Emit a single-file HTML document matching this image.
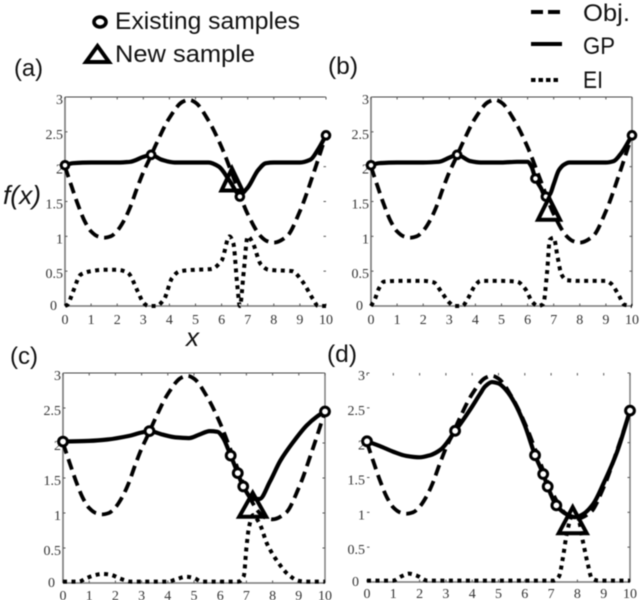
<!DOCTYPE html>
<html>
<head>
<meta charset="utf-8">
<style>
html,body{margin:0;padding:0;background:#fff;}
#chart{display:block;filter:blur(0.45px);}
.lbl{font-family:"Liberation Sans",sans-serif;fill:#111;}
.tick{font-family:"Liberation Serif",serif;font-size:14px;fill:#333;}
</style>
</head>
<body>
<svg id="chart" width="640" height="600" viewBox="0 0 640 600">
  <g>
    <ellipse cx="100" cy="22" rx="6" ry="5" fill="#fff" stroke="#000" stroke-width="3.6"/>
    <text class="lbl" x="115" y="29" font-size="24" textLength="185" lengthAdjust="spacingAndGlyphs">Existing samples</text>
    <polygon points="97.5,46 86,62 109,62" fill="none" stroke="#000" stroke-width="4"/>
    <text class="lbl" x="115" y="62" font-size="24" textLength="140" lengthAdjust="spacingAndGlyphs">New sample</text>
  </g>
  <g>
    <line x1="531" y1="12" x2="560" y2="12" stroke="#000" stroke-width="4" stroke-dasharray="12 5"/>
    <text class="lbl" x="583" y="21" font-size="24" textLength="47" lengthAdjust="spacingAndGlyphs">Obj.</text>
    <line x1="531" y1="44" x2="562" y2="44" stroke="#000" stroke-width="4"/>
    <text class="lbl" x="583" y="54" font-size="24" textLength="32" lengthAdjust="spacingAndGlyphs">GP</text>
    <line x1="531" y1="80" x2="560" y2="80" stroke="#000" stroke-width="4" stroke-dasharray="4.5 3"/>
    <text class="lbl" x="583" y="88" font-size="24" textLength="20" lengthAdjust="spacingAndGlyphs">EI</text>
  </g>
  <text class="lbl" x="14" y="76" font-size="24" textLength="29" lengthAdjust="spacingAndGlyphs">(a)</text>
  <text class="lbl" x="328" y="74" font-size="24" textLength="30" lengthAdjust="spacingAndGlyphs">(b)</text>
  <text class="lbl" x="10" y="364" font-size="24" textLength="28" lengthAdjust="spacingAndGlyphs">(c)</text>
  <text class="lbl" x="327" y="362" font-size="24" textLength="30" lengthAdjust="spacingAndGlyphs">(d)</text>
  <text class="lbl" x="3" y="204" font-size="26" font-style="italic" textLength="38" lengthAdjust="spacingAndGlyphs">f(x)</text>
  <text class="lbl" x="186" y="346" font-size="26" font-style="italic">x</text>
  <g id="panels"></g>
</svg>
<script>
const xTickLabels = ["0","1","2","3","4","5","6","7","8","9","10"];
const yTickLabels = ["0","0.5","1","1.5","2","2.5","3"];
const yTickValues = [0,0.5,1,1.5,2,2.5,3];
const xTickValues = [0,1,2,3,4,5,6,7,8,9,10];

const objX = [0,0.25,0.5,0.75,1,1.25,1.5,1.75,2,2.25,2.5,2.75,3,3.25,3.5,4,4.5,4.75,5,5.5,6,6.5,7,7.5,7.75,8,8.5,9,9.5,10];
const objY = [2.0,1.72,1.45,1.22,1.07,1.0,0.98,1.0,1.08,1.22,1.42,1.68,1.92,2.12,2.33,2.7,2.93,2.96,2.92,2.66,2.28,1.8,1.32,1.0,0.93,0.91,1.0,1.36,1.88,2.45];

const gpAX = [0,0.3,1,2,2.5,3,3.3,3.7,4.2,5.5,5.9,6.3,6.7,7,7.4,7.7,8,9,9.4,9.7,10];
const gpAY = [2.02,2.05,2.06,2.06,2.07,2.14,2.17,2.1,2.06,2.06,2.0,1.8,1.6,1.7,1.95,2.05,2.06,2.06,2.1,2.25,2.45];
const eiAX = [0,0.1,0.3,0.6,1,1.5,2,2.4,2.8,3,3.2,3.5,3.8,4.1,4.4,5,5.6,6,6.3,6.45,6.6,6.7,6.85,7,7.2,7.5,7.8,8.7,9.1,9.5,9.7,10];
const eiAY = [0,0.02,0.2,0.45,0.5,0.52,0.52,0.48,0.2,0.05,0,0,0.1,0.4,0.5,0.52,0.53,0.65,1.0,0.9,0.3,0,0.5,1.0,0.9,0.6,0.52,0.5,0.35,0.1,0,0];
const samplesAX = [0,3.3,6.7,10];
const samplesAY = [2.02,2.17,1.57,2.45];
const newAX = [6.4];
const newAY = [1.81];

const gpBX = [0,0.3,1,2,2.6,3,3.3,3.8,4.2,5,5.6,6,6.15,6.3,6.5,6.7,6.85,7,7.2,7.4,7.6,8,9,9.3,9.6,10];
const gpBY = [2.02,2.05,2.06,2.06,2.07,2.13,2.17,2.08,2.06,2.06,2.07,2.07,2.0,1.83,1.7,1.57,1.6,1.75,1.95,2.03,2.06,2.06,2.06,2.08,2.2,2.45];
const eiBX = [0,0.15,0.3,0.5,1,2,2.4,2.7,3,3.2,3.5,3.7,4,4.2,5,5.6,5.9,6.2,6.4,6.6,6.75,6.85,7,7.15,7.3,7.5,8,9,9.2,9.5,9.7,10];
const eiBY = [0,0.1,0.25,0.35,0.36,0.36,0.34,0.2,0.05,0,0,0.1,0.3,0.36,0.36,0.35,0.25,0.05,0,0.03,0.5,0.95,0.98,0.7,0.45,0.37,0.36,0.36,0.32,0.15,0.02,0];
const samplesBX = [0,3.3,6.3,6.7,10];
const samplesBY = [2.02,2.17,1.83,1.57,2.45];
const newBX = [6.82];
const newBY = [1.39];

const gpCX = [0,1,1.7,2.5,3,3.3,3.8,4.3,4.8,5.2,5.6,5.9,6.1,6.4,6.67,6.88,7.25,7.5,7.9,8.3,8.8,9.3,9.7,10];
const gpCY = [2.02,2.03,2.05,2.1,2.15,2.17,2.12,2.08,2.07,2.12,2.17,2.16,2.08,1.82,1.57,1.38,1.2,1.2,1.45,1.75,2.02,2.25,2.38,2.45];
const eiCX = [0,0.6,0.9,1.2,1.5,1.8,2.2,2.6,4,4.3,4.7,5,5.3,6.7,6.9,7,7.1,7.25,7.5,7.8,8.2,8.6,9,9.3,10];
const eiCY = [0.02,0.02,0.07,0.11,0.13,0.12,0.06,0.02,0.02,0.05,0.09,0.07,0.02,0.02,0.1,0.5,0.8,0.97,0.85,0.55,0.3,0.12,0.03,0.02,0.02];
const samplesCX = [0,3.3,6.4,6.67,6.88,10];
const samplesCY = [2.02,2.17,1.82,1.57,1.38,2.45];
const newCX = [7.24];
const newCY = [1.11];

const gpDX = [0,0.5,1,1.5,2,2.4,2.8,3.1,3.35,3.55,4,4.3,4.5,4.75,5,5.3,5.6,6,6.39,6.7,6.87,7.2,7.6,7.9,8.2,8.6,9,9.5,10];
const gpDY = [2.02,1.95,1.87,1.81,1.79,1.82,1.9,2.03,2.17,2.27,2.52,2.7,2.81,2.87,2.85,2.75,2.58,2.25,1.82,1.55,1.37,1.1,0.97,0.93,0.97,1.12,1.42,1.86,2.46];
const eiDX = [0,1,1.3,1.6,1.9,2.3,7.1,7.3,7.45,7.6,7.8,8,8.2,8.4,8.55,8.8,10];
const eiDY = [0.02,0.02,0.08,0.12,0.09,0.02,0.02,0.08,0.35,0.7,0.95,0.95,0.6,0.25,0.05,0.02,0.02];
const samplesDX = [0,3.35,6.39,6.7,6.87,7.2,10];
const samplesDY = [2.02,2.17,1.82,1.55,1.37,1.1,2.46];
const newDX = [7.82];
const newDY = [0.88];

const NS = "http://www.w3.org/2000/svg";
const root = document.getElementById("panels");

function mk(tag, attrs, parent){
  const e = document.createElementNS(NS, tag);
  for (const k in attrs) e.setAttribute(k, attrs[k]);
  parent.appendChild(e);
  return e;
}

function smoothPath(xs, ys, sx, sy){
  const px = xs.map(sx), py = ys.map(sy), n = px.length;
  const d = [], m = [];
  for (let i = 0; i < n - 1; i++) d.push((py[i+1]-py[i])/(px[i+1]-px[i]));
  m.push(d[0]);
  for (let i = 1; i < n - 1; i++) {
    m.push(d[i-1]*d[i] <= 0 ? 0 : 2*d[i-1]*d[i]/(d[i-1]+d[i]));
  }
  m.push(d[n-2]);
  let s = "M" + px[0].toFixed(2) + " " + py[0].toFixed(2);
  for (let i = 0; i < n - 1; i++) {
    const h = (px[i+1]-px[i])/3;
    s += " C" + (px[i]+h).toFixed(2) + " " + (py[i]+m[i]*h).toFixed(2) + " " +
         (px[i+1]-h).toFixed(2) + " " + (py[i+1]-m[i+1]*h).toFixed(2) + " " +
         px[i+1].toFixed(2) + " " + py[i+1].toFixed(2);
  }
  return s;
}

function drawPanel(p){
  const sx = v => p.left + (v/10)*(p.right-p.left);
  const sy = v => p.bottom - (v/3)*(p.bottom-p.top);
  const g = mk("g", {}, root);
  
  

  p.sides.forEach(side => {
    const c = {
      l:[p.left,p.top,p.left,p.bottom,"#777",1.6],
      r:[p.right,p.top,p.right,p.bottom,"#777",1.4],
      t:[p.left,p.top,p.right,p.top,"#444",1],
      b:[p.left,p.bottom,p.right,p.bottom,"#777",1.5]
    }[side];
    const ln = mk("line", {x1:c[0],y1:c[1],x2:c[2],y2:c[3],stroke:c[4],"stroke-width":c[5]}, g);
    
    
  });

  xTickValues.forEach((v,i) => {
    const t1 = mk("line", {x1:sx(v),x2:sx(v),y1:p.bottom,y2:p.bottom-2.5,stroke:"#555","stroke-width":1}, g);
    
    
    const t2 = mk("line", {x1:sx(v),x2:sx(v),y1:p.top,y2:p.top+2.5,stroke:"#555","stroke-width":1}, g);
    
    
    const tx = mk("text", {x:sx(v),y:p.bottom+p.xLabelOffset,"text-anchor":"middle",class:"tick"}, g);
    
    
    tx.textContent = xTickLabels[i];
  });

  yTickValues.forEach((v,i) => {
    const t1 = mk("line", {x1:p.right,x2:p.right-2.5,y1:sy(v),y2:sy(v),stroke:"#555","stroke-width":1}, g);
    
    
    const t2 = mk("line", {x1:p.left,x2:p.left+2.5,y1:sy(v),y2:sy(v),stroke:"#555","stroke-width":1}, g);
    
    
    const isZero = v === 0;
    const tx = mk("text", {x:p.left-(isZero?8:2),y:sy(v)+(isZero?4:7),"text-anchor":"end",class:"tick"}, g);
    
    
    tx.textContent = yTickLabels[i];
  });

  const obj = mk("path", {d:smoothPath(objX,objY,sx,sy),fill:"none",stroke:"#000","stroke-width":3.8,"stroke-dasharray":"11 6"}, g);
  
  

  const gp = mk("path", {d:smoothPath(p.gpX,p.gpY,sx,sy),fill:"none",stroke:"#000","stroke-width":4.2}, g);
  
  

  const ei = mk("path", {d:smoothPath(p.eiX,p.eiY,sx,sy),fill:"none",stroke:"#000","stroke-width":4,"stroke-dasharray":"4 4.5"}, g);
  
  

  p.sX.forEach((v,i) => {
    const c = mk("circle", {cx:sx(v),cy:sy(p.sY[i]),r:p.markerR,fill:"#fff",stroke:"#000","stroke-width":3}, g);
    
    
  });

  const tx = sx(p.nX[0]), ty = sy(p.nY[0]);
  const pts = [[tx,ty-p.triH*0.52],[tx-p.triW/2,ty+p.triH*0.48],[tx+p.triW/2,ty+p.triH*0.48]]
    .map(a => a[0].toFixed(1)+","+a[1].toFixed(1)).join(" ");
  const tri = mk("polygon", {points:pts,fill:"none",stroke:"#000","stroke-width":4}, g);
  
  
}

drawPanel({id:"a",left:65,right:326,top:97,bottom:306,xLabelOffset:18,markerR:3.8,sides:["l","t","b"],triW:21,triH:22,gpX:gpAX,gpY:gpAY,eiX:eiAX,eiY:eiAY,sX:samplesAX,sY:samplesAY,nX:newAX,nY:newAY});
drawPanel({id:"b",left:371,right:632,top:97,bottom:306,xLabelOffset:18,markerR:3.8,sides:["l","t","b","r"],triW:22,triH:22,gpX:gpBX,gpY:gpBY,eiX:eiBX,eiY:eiBY,sX:samplesBX,sY:samplesBY,nX:newBX,nY:newBY});
drawPanel({id:"c",left:63,right:325,top:373,bottom:583,xLabelOffset:17,markerR:4.4,sides:["l","t","b","r"],triW:27,triH:24,gpX:gpCX,gpY:gpCY,eiX:eiCX,eiY:eiCY,sX:samplesCX,sY:samplesCY,nX:newCX,nY:newCY});
drawPanel({id:"d",left:367,right:630,top:373,bottom:582,xLabelOffset:16,markerR:4.4,sides:["r","b"],triW:28,triH:26,gpX:gpDX,gpY:gpDY,eiX:eiDX,eiY:eiDY,sX:samplesDX,sY:samplesDY,nX:newDX,nY:newDY});
</script>
</body>
</html>
